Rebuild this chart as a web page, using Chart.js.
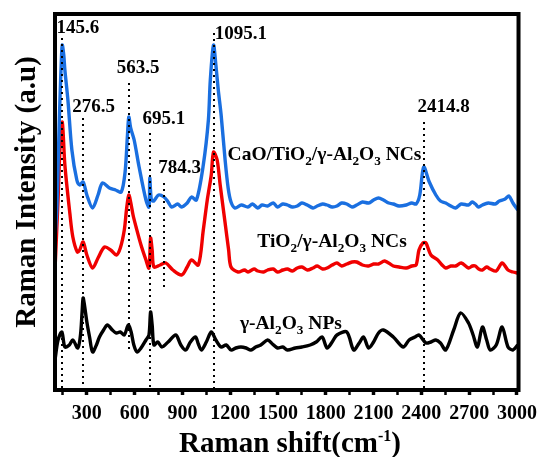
<!DOCTYPE html>
<html><head><meta charset="utf-8">
<script src="https://cdn.jsdelivr.net/npm/chart.js@4"></script>
<style>html,body{margin:0;padding:0;background:#fff}#wrap{width:544px;height:457px}</style>
</head><body><div id="wrap"><canvas id="c" width="544" height="457"></canvas></div>
<script>
// ---- data (Raman shift cm-1 vs intensity, arbitrary units, stacked offsets) ----
const caoX = [100,112,122,131,140,145.6,155,162,181,206,237,255,276.5,300,336,370,398,442,480,516,540,555,563.5,575,597,628,671,690,695.1,705,720,750,784.3,810,833,870,895,930,957,988,1031,1063,1075,1095.1,1110,1125,1143,1168,1187,1205,1230,1270,1311,1340,1373,1400,1435,1470,1497,1530,1559,1590,1621,1650,1684,1720,1746,1780,1808,1840,1870,1900,1932,1965,1994,2030,2069,2100,2131,2162,2195,2224,2260,2305,2340,2367,2390,2414.8,2450,2491,2520,2553,2585,2615,2650,2696,2720,2739,2760,2783,2820,2863,2890,2926,2950,2975,3005];
const caoY = [160,193,250,300,340,355,345,330,300,250,220,215,218,205,192,205,217,212,210,208,228,265,283,272,260,233,200,193,222,200,199,205,203,198,193,196,193,197,203,200,235,280,320,355,335,310,285,240,212,198,192,195,193,196,192,195,194,197,193,196,195,193,194,197,195,192,194,196,195,193,194,197,196,193,195,198,197,200,202,200,197,196,194,195,197,196,205,233,218,205,199,197,194,192,196,195,198,196,193,195,197,196,199,201,204,197,190];

const tioX = [100,119,131,145.6,162,193,212,240,255,276.5,300,336,370,411,450,485,510,535,550,563.5,575,590,609,640,671,690,700,710,721,760,796,840,895,930,957,1000,1031,1056,1081,1095.1,1118,1137,1168,1190,1205,1249,1290,1311,1350,1373,1410,1435,1470,1497,1530,1559,1590,1621,1650,1684,1720,1746,1780,1808,1840,1870,1900,1932,1965,1994,2030,2069,2100,2131,2170,2224,2260,2305,2340,2367,2385,2410,2429,2460,2503,2530,2553,2585,2615,2650,2696,2720,2739,2760,2783,2810,2832,2870,2907,2944,2975,3005];
const tioY = [130,200,250,278,235,187,163,148,150,158,145,132,142,153,150,145,152,170,192,205,198,185,173,155,140,132,162,150,133,135,137,130,125,133,140,135,170,200,225,248,240,215,177,150,133,128,130,128,131,129,128,130,131,128,130,131,129,132,133,130,132,134,131,132,135,137,134,136,138,138,135,134,136,136,139,134,133,132,134,135,150,157,157,145,140,135,132,134,134,137,132,134,134,131,130,133,131,129,137,130,128,127];

const alX = [100,119,143,162,190,212,243,260,270,276.5,285,300,317,336,360,379,405,429,460,485,510,535,560,578,595,615,640,671,690,700,710,721,745,771,810,858,890,920,950,982,1000,1019,1050,1081,1110,1143,1175,1205,1235,1267,1300,1330,1360,1392,1435,1465,1497,1530,1559,1609,1650,1702,1740,1777,1808,1840,1870,1932,1975,2010,2037,2069,2100,2131,2162,2224,2286,2323,2360,2385,2429,2460,2491,2520,2553,2603,2646,2696,2725,2752,2783,2810,2832,2870,2907,2944,2975,3005];
const alY = [40,60,68,53,55,60,52,65,88,102,95,78,63,48,55,63,70,75,70,67,68,65,75,68,55,48,52,60,65,88,75,55,58,53,58,65,55,50,58,63,56,50,58,68,60,53,55,50,52,53,52,50,53,55,60,56,52,53,50,52,53,55,58,63,52,58,65,68,50,57,63,52,58,67,70,63,53,60,63,65,57,58,60,57,50,70,87,77,65,53,73,60,50,55,73,53,50,55];

const xMajorTicks = [300,600,900,1200,1500,1800,2100,2400,2700,3000];
const xMinorTicks = [150,450,750,1050,1350,1650,1950,2250,2550,2850];
const peakPositions = [145.6,276.5,563.5,695.1,784.3,1095.1,2414.8];
const peakTexts = ['145.6','276.5','563.5','695.1','784.3','1095.1','2414.8'];

// ---- annotation placement (data units) ----
const peakLineTop = [362,282,317,267,217,367,278];
const peakLineBottom = [10,10,48,10,110,12,10];
const peakLabelAt = [[243,372],[342,293],[622,332],[783,281],[882,232],[1267,366],[2540,293]];
const seriesLabels = [
  {parts:[['CaO/TiO',0],['2',1],['/γ-Al',0],['2',1],['O',0],['3',1],[' NCs',0]], at:[1792,245]},
  {parts:[['TiO',0],['2',1],['/γ-Al',0],['2',1],['O',0],['3',1],[' NCs',0]], at:[1839,158]},
  {parts:[['γ-Al',0],['2',1],['O',0],['3',1],[' NPs',0]], at:[1581,76]}
];

const FONT = '"Liberation Serif","Times New Roman",serif';
function pts(xs, ys){ return xs.map((x,i)=>({x:x,y:ys[i]})); }

function drawRich(ctx, parts, cx, cy, size){
  const sub = size*0.68;
  let w = 0;
  parts.forEach(p=>{ ctx.font = 'bold '+(p[1]?sub:size)+'px '+FONT; w += ctx.measureText(p[0]).width; });
  let x = cx - w/2;
  ctx.textBaseline = 'middle'; ctx.textAlign = 'left';
  parts.forEach(p=>{
    ctx.font = 'bold '+(p[1]?sub:size)+'px '+FONT;
    ctx.fillText(p[0], x, cy + (p[1]? size*0.32 : 0));
    x += ctx.measureText(p[0]).width;
  });
}

const annot = {
  id:'annot',
  afterDatasetsDraw(chart){
    const ctx = chart.ctx, xs = chart.scales.x, ys = chart.scales.y, a = chart.chartArea;
    ctx.save();
    // dotted peak lines
    ctx.strokeStyle = '#000'; ctx.lineWidth = 2; ctx.setLineDash([2,4]);
    peakPositions.forEach((p,i)=>{
      const px = Math.round(xs.getPixelForValue(p));
      ctx.beginPath();
      ctx.moveTo(px, ys.getPixelForValue(peakLineTop[i]));
      ctx.lineTo(px, ys.getPixelForValue(peakLineBottom[i]));
      ctx.stroke();
    });
    ctx.setLineDash([]);
    ctx.fillStyle = '#000';
    ctx.textAlign = 'center'; ctx.textBaseline = 'middle';
    ctx.font = 'bold 19px '+FONT;
    peakTexts.forEach((t,i)=>{
      ctx.fillText(t, xs.getPixelForValue(peakLabelAt[i][0]), ys.getPixelForValue(peakLabelAt[i][1]));
    });
    seriesLabels.forEach(s=>{
      drawRich(ctx, s.parts, xs.getPixelForValue(s.at[0]), ys.getPixelForValue(s.at[1]), 19.5);
    });
    // frame
    ctx.lineWidth = 4; ctx.strokeStyle = '#000';
    ctx.strokeRect(a.left, a.top, a.right-a.left, a.bottom-a.top);
    // axis titles
    ctx.textBaseline = 'middle';
    const big = 'bold 29px '+FONT, small = 'bold 16px '+FONT;
    ctx.font = big;
    const title = 'Raman shift(cm';
    const sup = '-1';
    const tw = ctx.measureText(title).width;
    ctx.font = small; const sw = ctx.measureText(sup).width;
    ctx.font = big; const cw = ctx.measureText(')').width;
    const total = tw+sw+cw;
    let x0 = 290 - total/2;
    ctx.textAlign = 'left';
    ctx.fillText(title, x0, 445);
    ctx.font = small; ctx.fillText(sup, x0+tw, 437);
    ctx.font = big; ctx.fillText(')', x0+tw+sw, 445);
    ctx.translate(28, 192); ctx.rotate(-Math.PI/2);
    ctx.textAlign = 'center';
    ctx.font = 'bold 29px '+FONT;
    ctx.fillText('Raman Intensity (a.u)', 0, 0);
    ctx.restore();
  }
};

new Chart(document.getElementById('c'), {
  type:'line',
  data:{ datasets:[
    {label:'CaO/TiO2/γ-Al2O3 NCs', data:pts(caoX,caoY), borderColor:'#1a6fe0', borderWidth:3.4, pointRadius:0, tension:0.3, fill:false},
    {label:'TiO2/γ-Al2O3 NCs', data:pts(tioX,tioY), borderColor:'#f00000', borderWidth:3.4, pointRadius:0, tension:0.3, fill:false},
    {label:'γ-Al2O3 NPs', data:pts(alX,alY), borderColor:'#000000', borderWidth:3.4, pointRadius:0, tension:0.3, fill:false}
  ]},
  options:{
    responsive:false, animation:false,
    layout:{padding:{left:55, top:14, right:22, bottom:0}},
    plugins:{legend:{display:false}, tooltip:{enabled:false}},
    scales:{
      x:{type:'linear', min:100, max:3010,
        afterBuildTicks(s){ s.ticks = xMajorTicks.concat(xMinorTicks).sort((a,b)=>a-b).map(v=>({value:v})); },
        afterFit(s){ s.height = 67; },
        border:{display:false},
        grid:{drawOnChartArea:false, drawTicks:true, tickLength:5, color:'#000',
          tickWidth:(c)=> (c.tick && xMajorTicks.includes(c.tick.value)) ? 3.5 : 2.5},
        ticks:{autoSkip:false, maxRotation:0, padding:7, color:'#000',
          font:{family:FONT, size:20, weight:'bold'},
          callback:(v)=> xMajorTicks.includes(v) ? String(v) : ''}
      },
      y:{display:false, min:10, max:386}
    }
  },
  plugins:[annot]
});
</script></body></html>
